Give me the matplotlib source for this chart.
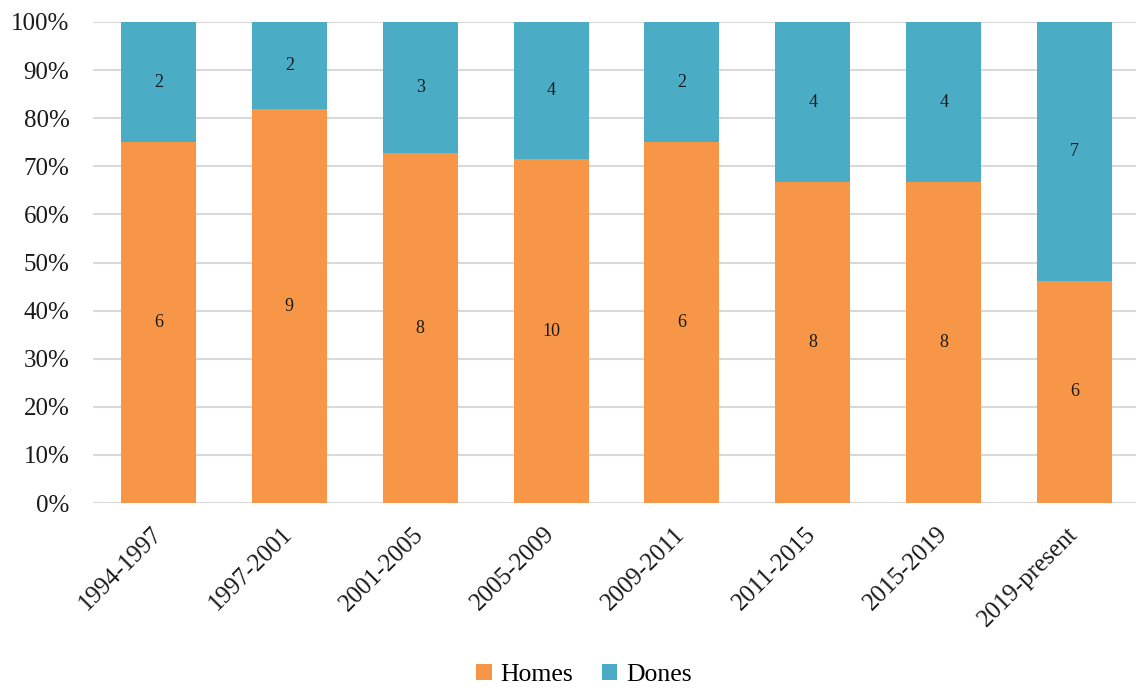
import matplotlib.pyplot as plt
import numpy as np
from matplotlib.ticker import PercentFormatter

plt.rcParams['font.family'] = ['Liberation Serif', 'DejaVu Serif']

# Counts per legislature
periods = ['1994-1997', '1997-2001', '2001-2005', '2005-2009',
           '2009-2011', '2011-2015', '2015-2019', '2019-present']
homes = [6, 9, 8, 10, 6, 8, 8, 6]
dones = [2, 2, 3, 4, 2, 4, 4, 7]

homes = np.array(homes)
dones = np.array(dones)
total = homes + dones
homes_pct = homes / total * 100
dones_pct = dones / total * 100

orange = '#F79646'
blue = '#4BACC6'

fig = plt.figure(figsize=(11.36, 6.91), dpi=100)
ax = fig.add_axes([93 / 1136, 1 - 503 / 691, 1047 / 1136, (503 - 22) / 691])

x = np.arange(len(periods))
w = 0.573
ax.bar(x, homes_pct, w, color=orange, label='Homes', zorder=3)
ax.bar(x, dones_pct, w, bottom=homes_pct, color=blue, label='Dones', zorder=3)

for i in range(len(periods)):
    ax.text(x[i], homes_pct[i] / 2, str(homes[i]), ha='center', va='center',
            fontsize=13, color='#1a1a1a', zorder=4)
    ax.text(x[i], homes_pct[i] + dones_pct[i] / 2, str(dones[i]), ha='center',
            va='center', fontsize=13, color='#1a1a1a', zorder=4)

ax.set_xlim(-0.5, len(periods) - 0.5)
ax.set_ylim(0, 100)
ax.set_yticks(np.arange(0, 101, 10))
ax.yaxis.set_major_formatter(PercentFormatter(decimals=0))
ax.set_xticks(x)
ax.set_xticklabels(periods, rotation=45, ha='right', va='center',
                   rotation_mode='anchor')

ax.tick_params(axis='both', length=0, labelsize=18, colors='#1a1a1a')
ax.tick_params(axis='x', pad=20)
ax.tick_params(axis='y', pad=17)
ax.grid(axis='y', color='#d9d9d9', linewidth=1.5, zorder=0)
for s in ax.spines.values():
    s.set_visible(False)

fig.legend(loc='center', bbox_to_anchor=(584 / 1136, 1 - 675 / 691), ncol=2,
           frameon=False, fontsize=18.5, handlelength=0.6, handleheight=0.6,
           handletextpad=0.35, columnspacing=1.1)

fig.savefig('out.png', dpi=100)
